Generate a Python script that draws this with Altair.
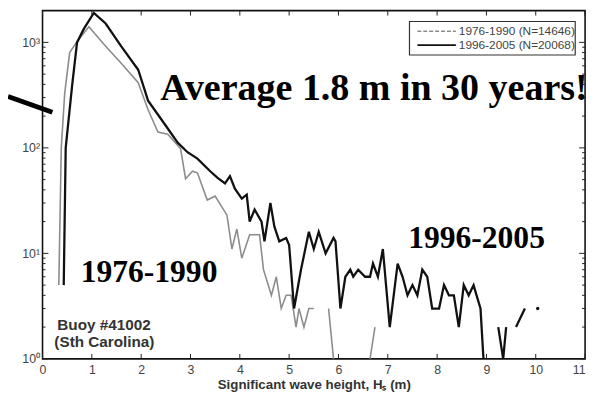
import altair as alt
import pandas as pd

# ---------------- data ----------------
# 1996-2005 (black); None marks a break in the curve (empty bin)
hs_new = [0.43, 0.47, 0.6, 0.7, 0.84, 1.04, 1.28, 1.6, 1.94, 2.14, 2.5, 2.74, 2.94,
          3.14, 3.4, 3.55, 3.7, 3.8, 3.9, 4.04, 4.14, 4.2, 4.3, 4.44, 4.5, 4.62, 4.7,
          4.8, 4.94, 5.0, 5.1, 5.24, 5.4, 5.5, 5.6, 5.74, 5.9, 5.94, 6.04, 6.14, 6.24,
          6.3, 6.4, 6.54, 6.64, 6.7, 6.8, 6.9, 7.04, 7.2, 7.3, 7.4, 7.5, 7.6, 7.7, 7.8,
          7.9, 8.04, 8.14, 8.24, 8.34, 8.44, 8.54, 8.64, 8.74, 8.8, 8.88, 8.94, 9.1,
          9.24, 9.34, 9.4, 9.5, 9.6, 9.78, 9.9, 10.04]
n_new = [5, 100, 390, 1000, 1350, 1900, 1510, 910, 550, 280, 162, 112, 91,
         79, 60, 52, 46, 54, 41, 33, 36, 20, 26, 20, 13, 30, 18,
         13, 14, 12, 3, 7, 16, 11, 16, 10, 14, 13, 3, 6, 7,
         6, 7, 6, 6, 8, 6, 11, 2, 8, 6, 4, 5, 4, 7, 6,
         3, 3, 5, 4, 4, 2, 5, 4, 5, 4, 3, 1, None,
         2, 1, 2, None, 2, 3, None, 3]

# 1976-1990 (grey)
hs_old = [0.33, 0.38, 0.45, 0.55, 0.72, 0.94, 1.28, 1.6, 1.94, 2.14, 2.34, 2.54, 2.8,
          2.9, 3.04, 3.14, 3.34, 3.5, 3.74, 3.84, 3.94, 4.04, 4.2, 4.4, 4.48, 4.64,
          4.74, 4.84, 4.94, 5.04, 5.14, 5.2, 5.3, 5.4, 5.5, 5.65, 5.8, 5.9, 6.3,
          6.64, 6.74]
n_old = [5, 100, 330, 800, 1050, 1410, 920, 630, 415, 230, 141, 135, 98,
         51, 60, 58, 32, 35, 23, 11, 17, 9, 15, 15, 7, 4,
         6, 3, 4, 4, 2, 3, 2, 3, 3, None, 3, 1, None,
         1, 2]

series_names = ["1976-1990", "1996-2005"]
legend_labels = ["1976-1990 (N=14646)", "1996-2005 (N=20068)"]

x_ticks = [0, 1, 2, 3, 4, 5, 6, 7, 8, 9, 10, 11]
y_major = [1, 10, 100, 1000]
y_minor = [2, 3, 4, 5, 6, 7, 8, 9, 20, 30, 40, 50, 60, 70, 80, 90,
           200, 300, 400, 500, 600, 700, 800, 900]

W, H = 550, 353


def build(xs, vs, name):
    rows, seg = [], 0
    for x, v in zip(xs, vs):
        if v is None:
            seg += 1
            continue
        rows.append({"h": x, "v": v, "series": name, "seg": f"{name}-{seg}"})
    return rows


rows = build(hs_old, n_old, series_names[0]) + build(hs_new, n_new, series_names[1])
df = pd.DataFrame(rows)
counts = df.groupby("seg")["h"].transform("count")
df_single = df[counts == 1]

xs = alt.Scale(domain=[0, 11], nice=False)
ys = alt.Scale(type="log", domain=[1, 2000], nice=False)

x_axis = alt.Axis(values=x_ticks, format="d", ticks=False, domain=False, grid=False,
                  title="Significant wave height, Hₛ (m)", titleFontSize=13.5,
                  titleFontWeight="bold", titleColor="#333", titleFont="Liberation Sans",
                  titlePadding=2, labelPadding=5, labelFontSize=12.5, labelColor="#444",
                  labelFont="Liberation Sans", labelFlush=False, labelOverlap=False,
                  labelAlign={"condition": {"test": "datum.value == 11", "value": "right"},
                              "value": "center"})
y_axis = alt.Axis(values=y_major, ticks=False, domain=False, grid=False, title=None,
                  labelExpr="datum.value == 1 ? '10⁰' : datum.value == 10 ? '10¹' : datum.value == 100 ? '10²' : '10³'",
                  labelFontSize=12.5, labelColor="#444", labelFont="Liberation Sans",
                  labelPadding=3, labelOverlap=False)

XE = alt.X("h:Q", scale=xs, axis=x_axis)
YE = alt.Y("v:Q", scale=ys, axis=y_axis)

color = alt.Color("series:N", scale=alt.Scale(domain=series_names, range=["#8c8c8c", "#111111"]),
                  legend=None)

old_line = alt.Chart(df[df.series == series_names[0]]).mark_line(strokeWidth=1.6).encode(
    x=XE, y=YE, color=color, detail="seg:N", order="h:Q")
new_line = alt.Chart(df[df.series == series_names[1]]).mark_line(strokeWidth=2.3).encode(
    x=XE, y=YE, color=color, detail="seg:N", order="h:Q")
dots = alt.Chart(df_single).mark_circle(size=12, opacity=1).encode(
    x=XE, y=YE, color=color)

# inward ticks
ymaj = pd.DataFrame({"v": y_major})
ymin = pd.DataFrame({"v": y_minor})
xt = pd.DataFrame({"h": x_ticks})


def yticks(d, ln):
    left = alt.Chart(d).mark_rule(color="#222", strokeWidth=1).encode(
        y=YE, x=alt.value(0), x2=alt.value(ln))
    right = alt.Chart(d).mark_rule(color="#222", strokeWidth=1).encode(
        y=YE, x=alt.value(W - ln), x2=alt.value(W))
    return [left, right]


xtick_b = alt.Chart(xt).mark_rule(color="#222", strokeWidth=1).encode(
    x=XE, y=alt.value(H - 5), y2=alt.value(H))
xtick_t = alt.Chart(xt).mark_rule(color="#222", strokeWidth=1).encode(
    x=XE, y=alt.value(0), y2=alt.value(5))

one = pd.DataFrame({"a": [0]})


def txt(s, x, y, size, font, color="black", align="center", weight="bold"):
    return alt.Chart(one).mark_text(text=s, font=font, fontSize=size, fontWeight=weight,
                                    color=color, align=align, baseline="alphabetic").encode(
        x=alt.value(x), y=alt.value(y))


# legend box
leg_box = alt.Chart(one).mark_rect(fill="white", stroke="#333", strokeWidth=1.2).encode(
    x=alt.value(372), x2=alt.value(540), y=alt.value(11), y2=alt.value(45))
leg_l1 = alt.Chart(one).mark_rule(color="#8c8c8c", strokeWidth=1.5, strokeDash=[4, 2]).encode(
    x=alt.value(380), x2=alt.value(419), y=alt.value(21))
leg_l2 = alt.Chart(one).mark_rule(color="#111", strokeWidth=1.8).encode(
    x=alt.value(380), x2=alt.value(419), y=alt.value(35))
leg_t1 = txt(legend_labels[0], 422, 25, 12, "Liberation Sans", color="#444", align="left", weight="normal")
leg_t2 = txt(legend_labels[1], 422, 39, 12, "Liberation Sans", color="#444", align="left", weight="normal")

pointer = alt.Chart(one).mark_rule(color="black", strokeWidth=5).encode(
    x=alt.value(-35), x2=alt.value(10), y=alt.value(87), y2=alt.value(103))

annot = [
    txt("Average 1.8 m in 30 years!", 336, 91, 38.5, "Liberation Serif"),
    txt("1996-2005", 440, 241, 32, "Liberation Serif"),
    txt("1976-1990", 108, 275, 32, "Liberation Serif"),
    txt("Buoy #41002", 15, 324, 15.5, "Liberation Sans", color="#333", align="left"),
    txt("(Sth Carolina)", 12, 341, 15.5, "Liberation Sans", color="#333", align="left"),
]

chart = alt.layer(
    old_line, new_line, dots,
    *yticks(ymaj, 6), *yticks(ymin, 3), xtick_b, xtick_t,
    leg_box, leg_l1, leg_l2, leg_t1, leg_t2, pointer, *annot
).properties(
    width=W, height=H, autosize="none",
    padding={"left": 35, "top": 0, "right": 5, "bottom": 35},
    background="white"
).configure_view(stroke="#111", strokeWidth=1.6)

chart.save("out.html", embed_options={"renderer": "svg", "actions": False})
